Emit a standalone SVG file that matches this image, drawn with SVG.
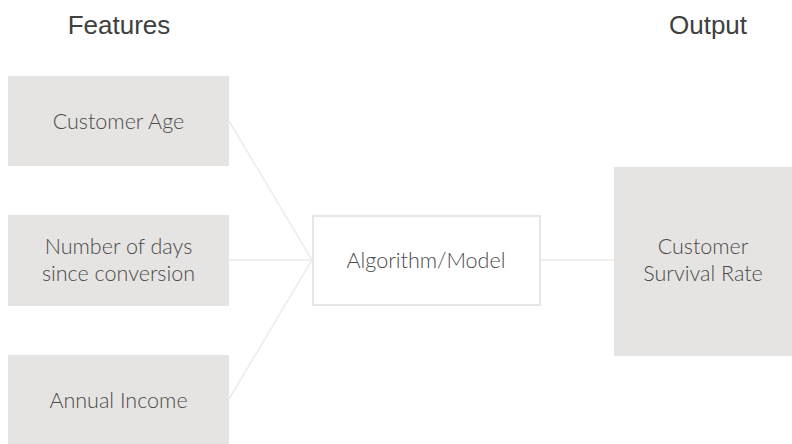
<svg xmlns="http://www.w3.org/2000/svg" width="792" height="444" viewBox="0 0 792 444">
<style>
.box{fill:#e6e4e2}
.model{fill:#ffffff;stroke:#e8e6e3;stroke-width:2}
.lbl{font-family:Lato,"Open Sans","Liberation Sans",sans-serif;font-size:21.5px;font-weight:300;fill:#4a4a4a;text-anchor:middle}
.ttl{font-family:"Liberation Sans",Arial,sans-serif;font-size:26px;fill:#404040;text-anchor:middle}
.conn{stroke:#eeebe8;stroke-width:1.5;fill:none}
</style>
<rect width="792" height="444" fill="#ffffff"/>
<text class="ttl" x="119" y="34">Features</text>
<text class="ttl" x="708" y="34">Output</text>
<g id="connectors">
<line class="conn" x1="229" y1="121" x2="312" y2="260"/>
<line class="conn" x1="229" y1="260" x2="312" y2="260"/>
<line class="conn" x1="229" y1="399" x2="312" y2="260"/>
<line class="conn" x1="540" y1="260" x2="614" y2="260"/>
</g>
<g id="customer-age">
<rect class="box" x="8" y="76" width="221" height="90"/>
<text class="lbl" x="118.5" y="129">Customer Age</text>
</g>
<g id="days-since-conversion">
<rect class="box" x="8" y="215" width="221" height="91"/>
<text class="lbl" x="118.5" y="254">Number of days</text>
<text class="lbl" x="118.5" y="281">since conversion</text>
</g>
<g id="annual-income">
<rect class="box" x="8" y="355" width="221" height="89"/>
<text class="lbl" x="118.5" y="408">Annual Income</text>
</g>
<g id="model">
<rect class="model" x="313" y="216" width="227" height="89"/>
<text class="lbl" x="426" y="268">Algorithm/Model</text>
</g>
<g id="survival-rate">
<rect class="box" x="614" y="167" width="178" height="189"/>
<text class="lbl" x="703" y="254">Customer</text>
<text class="lbl" x="703" y="281">Survival Rate</text>
</g>
</svg>
